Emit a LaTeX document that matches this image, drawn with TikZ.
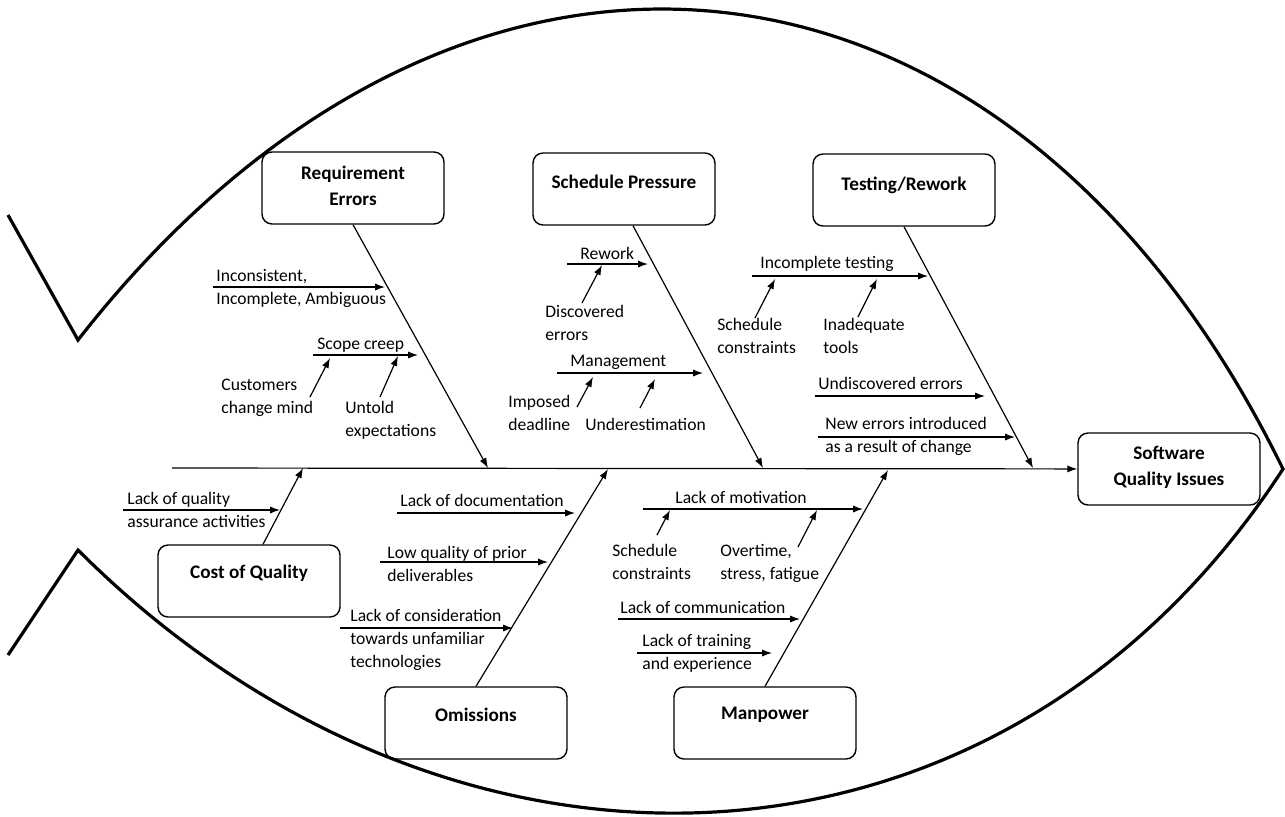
\documentclass[tikz,border=0pt]{standalone}
\usepackage{fontspec}
\setmainfont{Carlito}
\usetikzlibrary{arrows.meta}

\begin{document}
\begin{tikzpicture}[x=0.5pt, y=-0.5pt,
	causebox/.style={draw, line width=0.7pt, rounded corners=5pt, minimum width=91pt, minimum height=36pt},
	title/.style={font=\fontsize{9.6}{13}\selectfont\bfseries, align=center, inner sep=0pt},
	cause/.style={font=\fontsize{8.8}{11.5}\selectfont, align=left, anchor=west, inner sep=0pt},
	bone/.style={line width=0.6pt, -{Latex[length=5pt,width=3.6pt]}},
	fish/.style={line width=1.6pt}]
			\useasboundingbox (0,0) rectangle (1285,816);
			% outline of the fish
			\draw[fish] (8,215) -- (78,340) .. controls (460,-149) and (1011,-88) .. (1283,469) .. controls (998,907) and (447,919) .. (78,550) -- (8,655);
			% head and main causes
			\node[causebox] (sqi) at (1169,469) {};
			\node[title] (sqi-t) at (1169,467) {Software\\Quality Issues};
			\node[causebox] (re) at (353,188) {};
			\node[title] (re-t) at (353,186) {Requirement\\Errors};
			\node[causebox] (sp) at (624,189) {};
			\node[title] (sp-t) at (624,182) {Schedule Pressure};
			\node[causebox] (tr) at (904,190) {};
			\node[title] (tr-t) at (904,185) {Testing/Rework};
			\node[causebox] (coq) at (249,581) {};
			\node[title] (coq-t) at (249,573) {Cost of Quality};
			\node[causebox] (om) at (476,723) {};
			\node[title] (om-t) at (476,715) {Omissions};
			\node[causebox] (mp) at (765,723) {};
			\node[title] (mp-t) at (765,715) {Manpower};
			% spine
			\coordinate (tail) at (172,468);
			\coordinate (re-s) at (488,468);
			\coordinate (sp-s) at (763,468);
			\coordinate (tr-s) at (1033,468);
			\coordinate (coq-s) at (303,468);
			\coordinate (om-s) at (608,469);
			\coordinate (mp-s) at (888,470);
			\draw[bone] (tail) -- (sqi);
			\draw[bone] (re.south) -- (re-s);
			\draw[bone] ([xshift=4.5pt]sp.south) -- (sp-s);
			\draw[bone] (tr.south) -- (tr-s);
			\draw[bone] ([xshift=7pt]coq.north) -- (coq-s);
			\draw[bone] (om.north) -- (om-s);
			\draw[bone] (mp.north) -- (mp-s);
			% requirement errors
			\node[cause] (incons) at (216,288) {Inconsistent,\\Incomplete, Ambiguous};
			\node[cause] (scope) at (317,345) {Scope creep};
			\node[cause] (cust) at (221,398) {Customers\\change mind};
			\node[cause] (untold) at (345,420) {Untold\\expectations};
			\coordinate (incons-a) at (213,287);
			\coordinate (incons-b) at (385,287);
			\coordinate (scope-a) at (313,355);
			\coordinate (scope-b) at (418,355);
			\coordinate (cust-a) at (310,397);
			\coordinate (cust-b) at (330,358);
			\coordinate (untold-a) at (380,397);
			\coordinate (untold-b) at (398,356);
			\draw[bone] (incons-a) -- (incons-b);
			\draw[bone] (scope-a) -- (scope-b);
			\draw[bone] (cust-a) -- (cust-b);
			\draw[bone] (untold-a) -- (untold-b);
			% schedule pressure
			\node[cause] (rework) at (580,253) {Rework};
			\node[cause] (disc) at (545,323) {Discovered\\errors};
			\node[cause] (mgmt) at (570,362) {Management};
			\node[cause] (imposed) at (508,413) {Imposed\\deadline};
			\node[cause] (under) at (585,424) {Underestimation};
			\coordinate (rework-a) at (567,264);
			\coordinate (rework-b) at (648,264);
			\coordinate (disc-a) at (582,303);
			\coordinate (disc-b) at (602,265);
			\coordinate (mgmt-a) at (557,373);
			\coordinate (mgmt-b) at (703,373);
			\coordinate (imposed-a) at (577,407);
			\coordinate (imposed-b) at (593,377);
			\coordinate (under-a) at (640,408);
			\coordinate (under-b) at (655,379);
			\draw[bone] (rework-a) -- (rework-b);
			\draw[bone] (disc-a) -- (disc-b);
			\draw[bone] (mgmt-a) -- (mgmt-b);
			\draw[bone] (imposed-a) -- (imposed-b);
			\draw[bone] (under-a) -- (under-b);
			% testing/rework
			\node[cause] (inctest) at (760,264) {Incomplete testing};
			\node[cause] (sched1) at (717,336) {Schedule\\constraints};
			\node[cause] (tools) at (823,336) {Inadequate\\tools};
			\node[cause] (undisc) at (818,383) {Undiscovered errors};
			\node[cause] (newerr) at (825,436) {New errors introduced\\as a result of change};
			\coordinate (inctest-a) at (752,276);
			\coordinate (inctest-b) at (928,276);
			\coordinate (sched1-a) at (755,318);
			\coordinate (sched1-b) at (775,279);
			\coordinate (tools-a) at (858,317);
			\coordinate (tools-b) at (877,279);
			\coordinate (undisc-a) at (815,396);
			\coordinate (undisc-b) at (985,396);
			\coordinate (newerr-a) at (818,437);
			\coordinate (newerr-b) at (1015,437);
			\draw[bone] (inctest-a) -- (inctest-b);
			\draw[bone] (sched1-a) -- (sched1-b);
			\draw[bone] (tools-a) -- (tools-b);
			\draw[bone] (undisc-a) -- (undisc-b);
			\draw[bone] (newerr-a) -- (newerr-b);
			% cost of quality
			\node[cause] (qa) at (127,510) {Lack of quality\\assurance activities};
			\coordinate (qa-a) at (123,510);
			\coordinate (qa-b) at (280,510);
			\draw[bone] (qa-a) -- (qa-b);
			% omissions
			\node[cause] (doc) at (400,500) {Lack of documentation};
			\node[cause] (prior) at (387,564) {Low quality of prior\\deliverables};
			\node[cause] (consid) at (350,640) {Lack of consideration\\towards unfamiliar\\technologies};
			\coordinate (doc-a) at (397,513);
			\coordinate (doc-b) at (575,513);
			\coordinate (prior-a) at (380,562);
			\coordinate (prior-b) at (548,562);
			\coordinate (consid-a) at (340,628);
			\coordinate (consid-b) at (513,628);
			\draw[bone] (doc-a) -- (doc-b);
			\draw[bone] (prior-a) -- (prior-b);
			\draw[bone] (consid-a) -- (consid-b);
			% manpower
			\node[cause] (motiv) at (675,497) {Lack of motivation};
			\node[cause] (sched2) at (612,562) {Schedule\\constraints};
			\node[cause] (overtime) at (720,563) {Overtime,\\stress, fatigue};
			\node[cause] (comm) at (620,607) {Lack of communication};
			\node[cause] (train) at (642,653) {Lack of training\\and experience};
			\coordinate (motiv-a) at (643,509);
			\coordinate (motiv-b) at (863,509);
			\coordinate (sched2-a) at (657,535);
			\coordinate (sched2-b) at (670,510);
			\coordinate (overtime-a) at (798,547);
			\coordinate (overtime-b) at (817,510);
			\coordinate (comm-a) at (618,619);
			\coordinate (comm-b) at (800,619);
			\coordinate (train-a) at (637,653);
			\coordinate (train-b) at (772,653);
			\draw[bone] (motiv-a) -- (motiv-b);
			\draw[bone] (sched2-a) -- (sched2-b);
			\draw[bone] (overtime-a) -- (overtime-b);
			\draw[bone] (comm-a) -- (comm-b);
			\draw[bone] (train-a) -- (train-b);
		\end{tikzpicture}
\end{document}
